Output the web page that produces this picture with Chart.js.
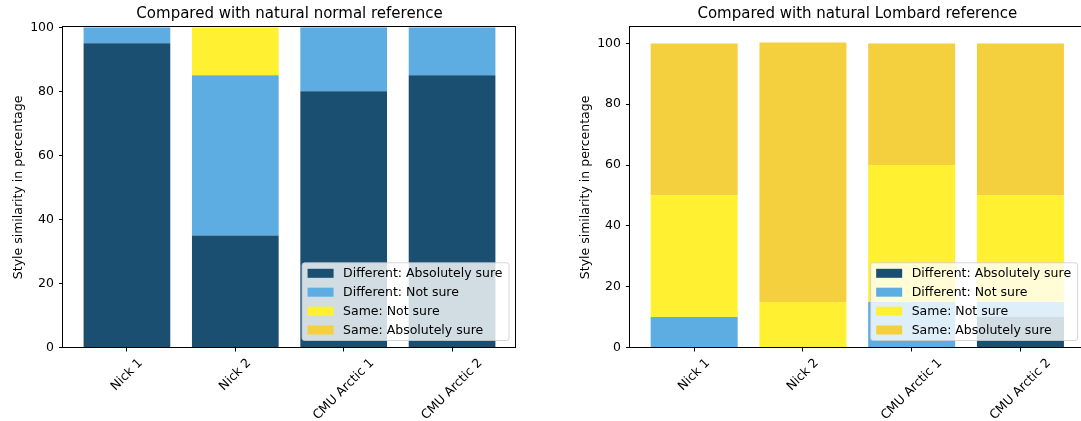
<!DOCTYPE html>
<html><head><meta charset="utf-8">
<script src="https://cdn.jsdelivr.net/npm/chart.js@4.4.0/dist/chart.umd.min.js"></script>
<style>
html,body{margin:0;padding:0;overflow:hidden;background:#fff;width:1081px;height:421px;position:relative}
canvas{position:absolute;top:0}
#c1{left:0px}
#c2{left:560px}
</style></head><body>
<canvas id="c1" width="545" height="421"></canvas>
<canvas id="c2" width="530" height="421"></canvas>
<script>
const categories = ['Nick 1', 'Nick 2', 'CMU Arctic 1', 'CMU Arctic 2'];
const seriesNames = ['Different: Absolutely sure', 'Different: Not sure', 'Same: Not sure', 'Same: Absolutely sure'];
const seriesColors = ['#1B4F72', '#5DADE2', '#FFF032', '#F4D03F'];
// Left: compared with natural normal reference
const normalDiffAbs = [95, 35, 80, 85];
const normalDiffNot = [5, 50, 20, 15];
const normalSameNot = [0, 15, 0, 0];
const normalSameAbs = [0, 0, 0, 0];
// Right: compared with natural Lombard reference
const lombardDiffAbs = [0, 0, 0, 10];
const lombardDiffNot = [10, 0, 15, 5];
const lombardSameNot = [40, 15, 45, 35];
const lombardSameAbs = [50, 85.3, 40, 50];
const yTickStep = 20;
const titles = ['Compared with natural normal reference', 'Compared with natural Lombard reference'];
const yLabel = 'Style similarity in percentage';

Chart.defaults.font.family = '"DejaVu Sans"';
Chart.defaults.color = '#000';

function roundRectPath(ctx, x, y, w, h, r) {
  ctx.beginPath();
  ctx.moveTo(x + r, y);
  ctx.lineTo(x + w - r, y);
  ctx.arcTo(x + w, y, x + w, y + r, r);
  ctx.lineTo(x + w, y + h - r);
  ctx.arcTo(x + w, y + h, x + w - r, y + h, r);
  ctx.lineTo(x + r, y + h);
  ctx.arcTo(x, y + h, x, y + h - r, r);
  ctx.lineTo(x, y + r);
  ctx.arcTo(x, y, x + r, y, r);
  ctx.closePath();
}

const overlay = {
  id: 'overlay',
  afterDraw(chart) {
    const ctx = chart.ctx, a = chart.chartArea;
    ctx.save();
    // spines
    ctx.strokeStyle = '#000';
    ctx.lineWidth = 1;
    const l = Math.round(a.left) - 0.5, t = Math.round(a.top) - 0.5;
    const r = Math.round(a.right) - 0.5, b = Math.round(a.bottom) - 0.5;
    ctx.strokeRect(l, t, r - l, b - t);
    // rotated x tick labels, centred on the ticks
    const xs = chart.scales.x;
    ctx.fillStyle = '#000';
    ctx.font = '12.5px "DejaVu Sans"';
    categories.forEach((lab, i) => {
      const px = xs.getPixelForValue(i);
      const w = ctx.measureText(lab).width;
      const ext = (w + 14.5) * Math.SQRT1_2;
      const cy = a.bottom + 8.5 + ext / 2;
      ctx.save();
      ctx.translate(px, cy);
      ctx.rotate(-Math.PI / 4);
      ctx.textAlign = 'center';
      ctx.textBaseline = 'middle';
      ctx.fillText(lab, 0, 0);
      ctx.restore();
    });
    // legend
    const ds = chart.data.datasets;
    let maxW = 0;
    ds.forEach(d => { maxW = Math.max(maxW, ctx.measureText(d.label).width); });
    const rowH = 18.9, padV = 10.5;
    const bw = 5.5 + 26 + 9.5 + maxW + 6.5;
    const bh = padV * 2 + rowH * (ds.length - 1);
    const bx = a.right - 7 - bw, by = a.bottom - 7 - bh;
    roundRectPath(ctx, bx, by, bw, bh, 2.5);
    ctx.fillStyle = 'rgba(255,255,255,0.8)';
    ctx.fill();
    ctx.strokeStyle = 'rgba(204,204,204,0.8)';
    ctx.stroke();
    ds.forEach((d, i) => {
      const cy = by + padV + i * rowH;
      ctx.fillStyle = d.backgroundColor;
      ctx.fillRect(bx + 5.5, cy - 4.5, 26, 9);
      ctx.fillStyle = '#000';
      ctx.textAlign = 'left';
      ctx.textBaseline = 'middle';
      ctx.fillText(d.label, bx + 41, cy + 0.5);
    });
    ctx.restore();
  }
};

function makeChart(id, title, series, yMax, yAxisWidth, yTitlePad, padRight) {
  const datasets = series.map((vals, k) => ({
    label: seriesNames[k],
    data: vals.map((v, i) => ({ x: i, y: v })),
    backgroundColor: seriesColors[k],
    borderWidth: 0,
    barPercentage: 0.8,
    categoryPercentage: 1.0
  }));
  return new Chart(document.getElementById(id), {
    type: 'bar',
    data: { datasets },
    plugins: [overlay],
    options: {
      responsive: false,
      animation: false,
      devicePixelRatio: 1,
      layout: { padding: { left: 0, right: padRight, top: 0, bottom: 0 } },
      plugins: {
        legend: { display: false },
        tooltip: { enabled: false },
        title: {
          display: true, text: title, fullSize: false, color: '#000',
          font: { size: 15, weight: 'normal', lineHeight: 1.2 },
          padding: { top: 5, bottom: 4.3 }
        }
      },
      scales: {
        x: {
          type: 'linear', stacked: true, min: -0.59, max: 3.59, offset: false,
          afterBuildTicks: s => { s.ticks = categories.map((c, i) => ({ value: i })); },
          afterFit: s => { s.height = 73.5; },
          ticks: { display: false },
          grid: { display: true, offset: false, drawOnChartArea: false, drawTicks: true, tickLength: 4, tickColor: '#000', tickWidth: 1 },
          border: { display: false }
        },
        y: {
          stacked: true, min: 0, max: yMax,
          afterFit: s => { s.width = yAxisWidth; },
          ticks: { stepSize: yTickStep, includeBounds: false, padding: 5, color: '#000', font: { size: 12.5 } },
          grid: { display: true, drawOnChartArea: false, drawTicks: true, tickLength: 4, tickColor: '#000', tickWidth: 1 },
          border: { display: false },
          title: { display: true, text: yLabel, color: '#000', font: { size: 12.5, lineHeight: 1.2 }, padding: { top: yTitlePad, bottom: 0 } }
        }
      }
    }
  });
}

makeChart('c1', titles[0], [normalDiffAbs, normalDiffNot, normalSameNot, normalSameAbs], 100, 63, 11.5, 29);
makeChart('c2', titles[1], [lombardDiffAbs, lombardDiffNot, lombardSameNot, lombardSameAbs], 105.3, 70, 18.5, 5.4);
</script>
</body></html>
